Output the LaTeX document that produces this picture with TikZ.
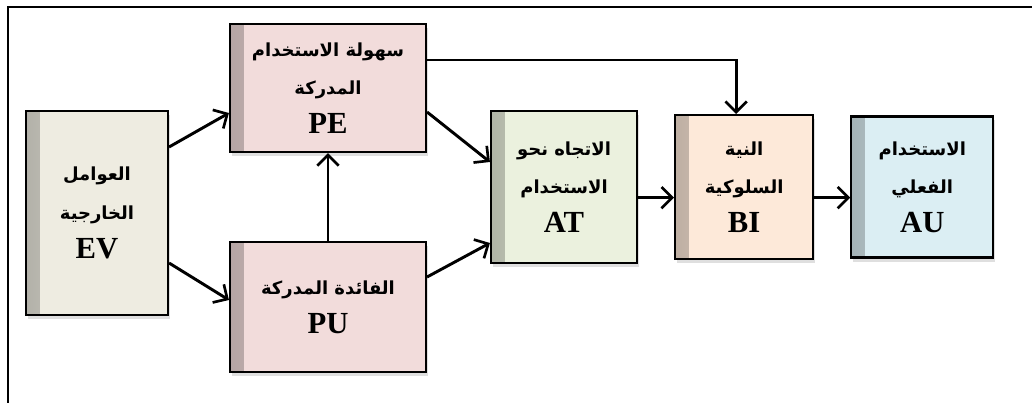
\documentclass[tikz,border=0pt]{standalone}
\usepackage{fontspec}
\setmainfont{Liberation Serif}
\newfontfamily\arabicfont[Script=Arabic]{DejaVu Sans}
\TeXXeTstate=1
\usetikzlibrary{arrows.meta,positioning,shadows}

\newcommand{\artxt}[1]{{\arabicfont\bfseries\fontsize{13.5}{28}\selectfont\beginR #1\endR}}

\definecolor{evfill}{HTML}{EEECE1}
\definecolor{pfill}{HTML}{F2DCDB}
\definecolor{atfill}{HTML}{EBF1DE}
\definecolor{bifill}{HTML}{FDE9D9}
\definecolor{aufill}{HTML}{DBEEF3}

\begin{document}
\begin{tikzpicture}[
	x=0.75pt, y=-0.75pt,
	font=\bfseries\fontsize{23}{29}\selectfont,
	>={Straight Barb[length=8pt,width=16pt,line width=2pt]},
	blk/.style={rectangle, draw=black, line width=1.6pt, fill=#1, align=center, inner sep=0pt,
		drop shadow={shadow xshift=1.5pt, shadow yshift=-3pt, opacity=.25},
		path picture={\shade[left color=#1!75!black, right color=#1]
			(path picture bounding box.north west) rectangle ([xshift=10pt]path picture bounding box.south west);}},
	link/.style={->, line width=2.2pt}
]
\clip (0,0) rectangle (1032,403);

% --- frame ---
\draw[line width=1.5pt] (8,7) rectangle (1045,420);

% --- left: external factors ---
\node[blk=evfill, minimum width=106.5pt, minimum height=153pt] (ev) at (97,213)
	{\artxt{العوامل}\\\artxt{الخارجية}\\EV};

% --- middle: perceptions ---
\node[blk=pfill, minimum width=147pt, minimum height=96pt] (pe) at (328,88)
	{\artxt{سهولة الاستخدام}\\\artxt{المدركة}\\PE};
\node[blk=pfill, minimum width=147pt, minimum height=97.5pt] (pu) at (328,307)
	{\artxt{الفائدة المدركة}\\PU};

% --- right: attitude, intention, use ---
\node[blk=atfill, minimum width=109.5pt, minimum height=114pt] (at) at (564,187)
	{\artxt{الاتجاه نحو}\\\artxt{الاستخدام}\\AT};
\node[blk=bifill, minimum width=103.5pt, minimum height=108pt, right=27pt of at] (bi)
	{\artxt{النية}\\\artxt{السلوكية}\\BI};
\node[blk=aufill, minimum width=106.5pt, minimum height=105.75pt, right=27pt of bi] (au)
	{\artxt{الاستخدام}\\\artxt{الفعلي}\\AU};

% --- edges ---
\draw[link] ([yshift=49.5pt]ev.east) -- ([yshift=-18.75pt]pe.west);
\draw[link] ([yshift=-37.5pt]ev.east) -- ([yshift=5.25pt]pu.west);
\draw[link] (pu.north) -- (pe.south);
\draw[link] ([yshift=-18pt]pe.east) -- ([yshift=18.75pt]at.west);
\draw[link] ([yshift=22.5pt]pu.east) -- ([yshift=-42pt]at.west);
\draw[link] ([yshift=21pt]pe.east) -| ([xshift=-6pt]bi.north);
\draw[link] ([yshift=-8pt]at.east) -- ([yshift=-8pt]at.east -| bi.west);
\draw[link] ([yshift=-8pt]bi.east) -- ([yshift=-8pt]bi.east -| au.west);

\end{tikzpicture}
\end{document}
